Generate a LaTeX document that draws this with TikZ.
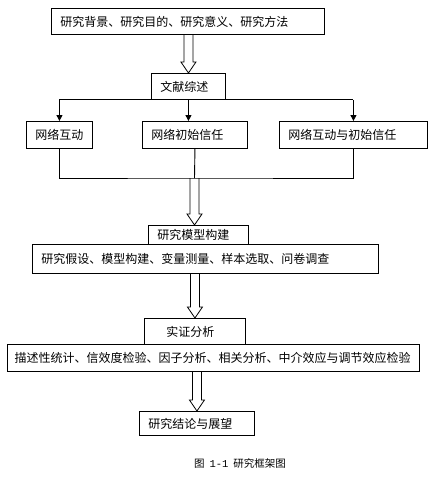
\documentclass[tikz,border=0pt]{standalone}
\usepackage{fontspec}
\setmainfont{Noto Sans CJK SC}
\newfontfamily\numfont{Liberation Mono}
\usetikzlibrary{arrows.meta,calc}

\tikzset{
  box/.style={draw, line width=0.9pt, anchor=north west, inner xsep=9pt, inner ysep=2pt, align=left,
    font=\fontsize{12pt}{14pt}\selectfont},
  arr/.style={line width=0.9pt, -{Triangle[length=6pt,width=6pt]}},
  dbl/.style={line width=0.8pt, to path={
    ($(\tikztostart)+(-4.5,0)$) -- ($(\tikztotarget)+(-4.5,-11)$) -- ($(\tikztotarget)+(-7.5,-11)$)
    -- (\tikztotarget) -- ($(\tikztotarget)+(7.5,-11)$) -- ($(\tikztotarget)+(4.5,-11)$)
    -- ($(\tikztostart)+(4.5,0)$)}}
}

\begin{document}
\begin{tikzpicture}[x=1pt,y=-1pt]
\useasboundingbox (0,0) rectangle (433,483);

% Research stages
\node[box, minimum width=273pt, minimum height=26pt, text width=255pt] (intro) at (51,8) {研究背景、研究目的、研究意义、研究方法};
\node[box, minimum width=74pt, minimum height=26pt, text width=56pt] (review) at (151,73) {文献综述};

% Three topics of the review
\node[box, minimum width=66pt, minimum height=27pt, text width=48pt] (inter) at (26,121) {网络互动};
\node[box, minimum width=105pt, minimum height=27pt, text width=87pt] (trust) at (142,121) {网络初始信任};
\node[box, minimum width=148pt, minimum height=27pt, text width=130pt] (both) at (279,121) {网络互动与初始信任};

% Model
\node[box, minimum width=100pt, minimum height=19pt, text width=82pt] (model) at (148,225) {研究模型构建};
\node[box, minimum width=346pt, minimum height=29pt, text width=328pt] (hypo) at (32,244) {研究假设、模型构建、变量测量、样本选取、问卷调查};

% Empirical part
\node[box, minimum width=101pt, minimum height=26pt, inner xsep=22pt, text width=57pt] (empir) at (144,318) {实证分析};
\node[box, line width=1.2pt, minimum width=412pt, minimum height=27pt, inner xsep=7pt, text width=398pt] (tests) at (7,344) {描述性统计、信效度检验、因子分析、相关分析、中介效应与调节效应检验};
\node[box, minimum width=115pt, minimum height=24pt, text width=97pt] (concl) at (139,411) {研究结论与展望};

% Caption
\node[font=\fontsize{10.5pt}{12pt}\selectfont] (caption) at (240,463) {图\hspace{5pt}{\numfont 1-1}\hspace{5pt}研究框架图};

% Connectors
\draw[dbl] (review.north |- intro.south) to (review.north);
\draw[line width=0.9pt] (inter.north |- review.south) -- (both.north |- review.south);
\draw[arr] (inter.north |- review.south) -- (inter.north);
\draw[arr] (review.south) -- (review.south |- trust.north);
\draw[arr] (both.north |- review.south) -- (both.north);

\coordinate (merge) at (194.5,178);
\coordinate (modeltop) at (merge |- model.north);
\draw[line width=0.9pt] (inter.south) |- (merge) -| (both.south);
\draw[line width=0.9pt] (trust.south) -- (merge);
\draw[dbl] (merge) to (modeltop);

\draw[dbl] (empir.north |- hypo.south) to (empir.north);
\draw[dbl] (concl.north |- tests.south) to (concl.north);

\end{tikzpicture}
\end{document}
